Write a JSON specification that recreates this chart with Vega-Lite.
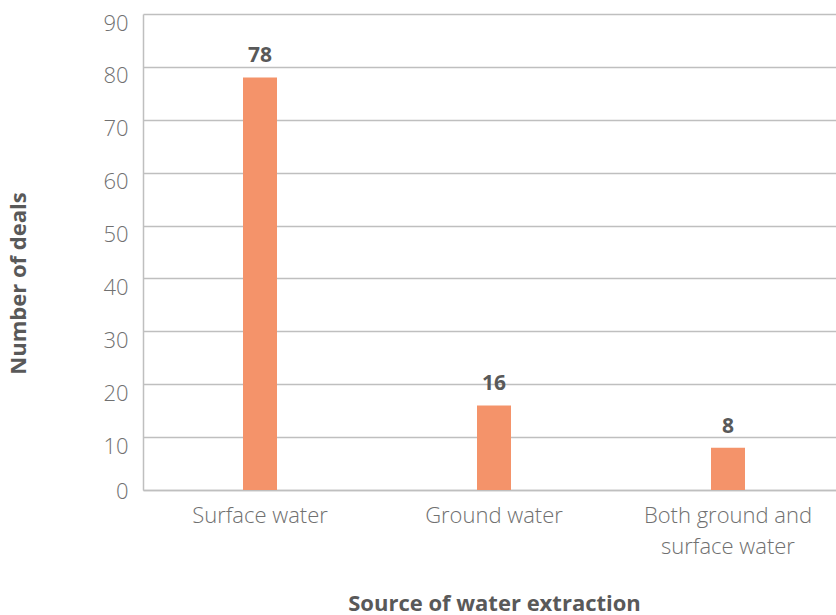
{
  "$schema": "https://vega.github.io/schema/vega-lite/v6.json",
  "autosize": "none",
  "padding": {"left": 143, "top": 14, "right": 0, "bottom": 125},
  "width": 702,
  "height": 476,
  "background": "white",
  "data": {"values": [
    {"source": "Surface water", "deals": 78},
    {"source": "Ground water", "deals": 16},
    {"source": "Both ground and surface water", "deals": 8}
  ]},
  "config": {
    "view": {"stroke": null},
    "font": "Open Sans"
  },
  "encoding": {
    "x": {
      "field": "source", "type": "nominal", "sort": null,
      "scale": {"paddingInner": 0, "paddingOuter": 0},
      "axis": {
        "title": "Source of water extraction",
        "titleFont": "Open Sans", "titleFontSize": 22, "titleFontWeight": "bold", "titleColor": "#595959",
        "titleY": 113, "titleBaseline": "middle",
        "labelAngle": 0, "labelFont": "Open Sans", "labelFontSize": 22, "labelFontWeight": 300, "labelColor": "#707070",
        "labelPadding": 15, "labelLineHeight": 31,
        "labelExpr": "datum.label == 'Both ground and surface water' ? ['Both ground and', 'surface water'] : datum.label",
        "ticks": false, "domainColor": "#bfbfbf", "domainWidth": 1.5
      }
    },
    "y": {
      "field": "deals", "type": "quantitative",
      "scale": {"domain": [0, 90]},
      "axis": {
        "title": "Number of deals",
        "titleFont": "Open Sans", "titleFontSize": 22, "titleFontWeight": "bold", "titleColor": "#595959",
        "titleX": -125, "titleY": 269, "titleAngle": -90, "titleAlign": "center", "titleBaseline": "middle",
        "values": [0,10,20,30,40,50,60,70,80,90],
        "labelFont": "Open Sans", "labelFontSize": 22, "labelFontWeight": 300, "labelColor": "#707070",
        "labelPadding": 15, "ticks": false,
        "labelOffset": {"condition": {"test": "datum.value == 0", "value": 1}, "value": 9},
        "gridColor": "#bfbfbf", "gridWidth": 1.5,
        "domainColor": "#bfbfbf", "domainWidth": 1.5
      }
    }
  },
  "layer": [
    {"mark": {"type": "bar", "color": "#F4936A", "size": 34}},
    {"mark": {"type": "text", "dy": -21, "font": "Open Sans", "fontSize": 21, "fontWeight": "bold", "color": "#595959"},
     "encoding": {"text": {"field": "deals", "type": "quantitative"}}}
  ]
}
